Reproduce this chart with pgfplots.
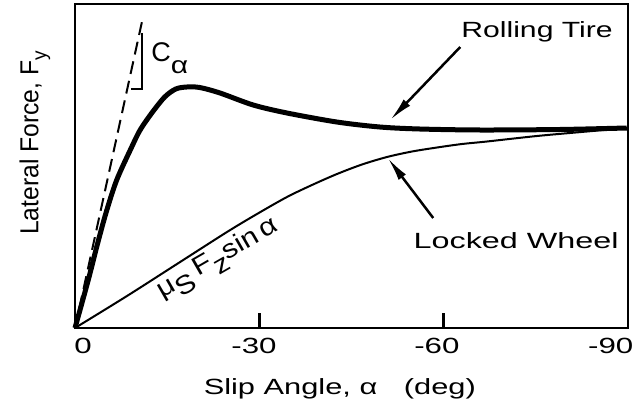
\documentclass[border=0pt]{standalone}
\usepackage{pgfplots}
\pgfplotsset{compat=1.18}
\usepackage{fontspec}
\setmainfont{Liberation Sans}
\usetikzlibrary{arrows.meta}
\newcommand{\sx}[2]{\scalebox{#1}[1]{#2}}
\newcommand{\fs}[1]{\fontsize{#1}{#1}\selectfont}
\begin{document}
\begin{tikzpicture}
\path[use as bounding box] (-75pt,-74pt) rectangle (566pt,328pt);
\begin{axis}[
  scale only axis, width=553pt, height=324pt,
  xmin=-90, xmax=0, ymin=0, ymax=324, x dir=reverse,
  xtick={0,-30,-60,-90}, xticklabels={}, ytick=\empty,
  tick align=inside, xtick pos=bottom, major tick length=15pt,
  tick style={line width=2.5pt, black},
  axis line style={line width=2.5pt},
  clip=false,
]
% Rolling tire
\addplot[black, line width=5pt, smooth, tension=0.5] coordinates {
(0,0) (-2.16,48) (-3.53,81) (-5.04,115) (-6.79,148) (-9.23,181) (-10.6,198)
(-12.5,215) (-14.6,231) (-16.4,239) (-18.2,241) (-20.3,240.5) (-23.6,235)
(-29.0,223) (-34.5,215) (-42.6,206) (-49.6,201) (-56.1,199) (-65.9,198)
(-78.9,198.5) (-89.8,200)
};
% Locked wheel
\addplot[black, line width=2pt, smooth, tension=0.5] coordinates {
(0,0) (-8.46,32) (-16.6,64) (-24.74,96) (-29.62,114) (-34.5,131)
(-38.57,143) (-42.64,154) (-46.71,163.5) (-50.78,171) (-54.85,176.5)
(-58.92,180.5) (-62.99,184) (-67.05,186.5) (-75.19,192) (-83.33,196.5)
(-89.84,200)
};
% Cornering stiffness tangent
\addplot[black, line width=2pt, dash pattern=on 13pt off 7pt] coordinates {
(0,0) (-11.07,311)
};
% C_alpha bracket
\draw[line width=2.5pt] (axis cs:-10.9,295) -- (axis cs:-10.9,239) -- (axis cs:-9.11,239);
\node[anchor=base west, inner sep=0pt] at (axis cs:-12.4,266)
  {\fs{27}C\raisebox{-12pt}{\sx{1.25}{\fs{24}α}}};
% arrows
\draw[line width=2.5pt, -{Latex[length=24pt,width=9pt]}] (axis cs:-62.7,281) -- (axis cs:-51.3,208);
\draw[line width=2.5pt, -{Latex[length=24pt,width=9pt]}] (axis cs:-58.3,110) -- (axis cs:-50.9,170);
% labels
\node[anchor=base, inner sep=0pt] at (axis cs:-75.2,290) {\fs{22}\sx{1.37}{Rolling Tire}};
\node[anchor=base, inner sep=0pt] at (axis cs:-71.8,80) {\fs{22}\sx{1.47}{Locked Wheel}};
\node[anchor=center, inner sep=0pt, rotate=30] at (axis cs:-23.4,68)
  {\fs{26}\sx{1.15}{μ\raisebox{-0.35em}{S}\,F\raisebox{-0.35em}{z}sin\,α}};
% tick labels
\node[anchor=base, inner sep=0pt] at (axis cs:-1.30,-25) {\fs{22}\sx{1.42}{0}};
\node[anchor=base, inner sep=0pt] at (axis cs:-29.13,-25) {\fs{22}\sx{1.42}{-30}};
\node[anchor=base, inner sep=0pt] at (axis cs:-58.9,-25) {\fs{22}\sx{1.42}{-60}};
\node[anchor=base, inner sep=0pt] at (axis cs:-87.2,-25) {\fs{22}\sx{1.42}{-90}};
% axis labels
\node[anchor=base, inner sep=0pt] at (axis cs:-43.1,-66) {\fs{22}\sx{1.4}{Slip Angle, α\hspace{19pt}(deg)}};
\node[anchor=center, inner sep=0pt, rotate=90] at (axis cs:6.51,185)
  {\fs{26}\sx{0.95}{Lateral Force, F\raisebox{-0.3em}{\fs{20}y}}};
\end{axis}
\end{tikzpicture}
\end{document}
